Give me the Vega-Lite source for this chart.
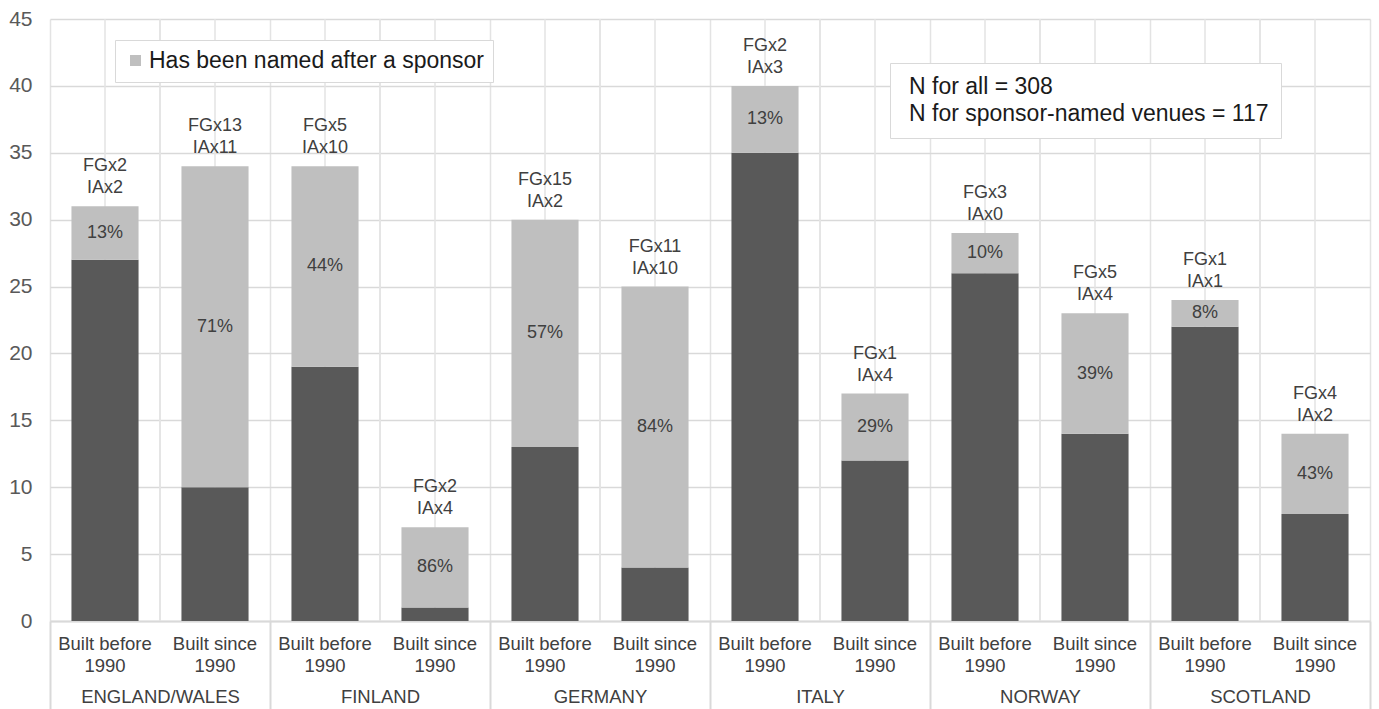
{
  "$schema": "https://vega.github.io/schema/vega-lite/v6.json",
  "width": 1320,
  "height": 602,
  "autosize": {"type": "none"},
  "padding": {"left": 50, "top": 19, "right": 9, "bottom": 88},
  "background": "white",
  "config": {
    "font": "Liberation Sans",
    "view": {"stroke": null}
  },
  "datasets": {
    "bars": [
      {"country": "ENGLAND/WALES", "period": "before", "plab": "Built before\n1990", "dark": 27, "total": 31, "pct": 0.13, "lab": "FGx2\nIAx2"},
      {"country": "ENGLAND/WALES", "period": "since", "plab": "Built since\n1990", "dark": 10, "total": 34, "pct": 0.71, "lab": "FGx13\nIAx11"},
      {"country": "FINLAND", "period": "before", "plab": "Built before\n1990", "dark": 19, "total": 34, "pct": 0.44, "lab": "FGx5\nIAx10"},
      {"country": "FINLAND", "period": "since", "plab": "Built since\n1990", "dark": 1, "total": 7, "pct": 0.86, "lab": "FGx2\nIAx4"},
      {"country": "GERMANY", "period": "before", "plab": "Built before\n1990", "dark": 13, "total": 30, "pct": 0.57, "lab": "FGx15\nIAx2"},
      {"country": "GERMANY", "period": "since", "plab": "Built since\n1990", "dark": 4, "total": 25, "pct": 0.84, "lab": "FGx11\nIAx10"},
      {"country": "ITALY", "period": "before", "plab": "Built before\n1990", "dark": 35, "total": 40, "pct": 0.13, "lab": "FGx2\nIAx3"},
      {"country": "ITALY", "period": "since", "plab": "Built since\n1990", "dark": 12, "total": 17, "pct": 0.29, "lab": "FGx1\nIAx4"},
      {"country": "NORWAY", "period": "before", "plab": "Built before\n1990", "dark": 26, "total": 29, "pct": 0.10, "lab": "FGx3\nIAx0"},
      {"country": "NORWAY", "period": "since", "plab": "Built since\n1990", "dark": 14, "total": 23, "pct": 0.39, "lab": "FGx5\nIAx4"},
      {"country": "SCOTLAND", "period": "before", "plab": "Built before\n1990", "dark": 22, "total": 24, "pct": 0.08, "lab": "FGx1\nIAx1"},
      {"country": "SCOTLAND", "period": "since", "plab": "Built since\n1990", "dark": 8, "total": 14, "pct": 0.43, "lab": "FGx4\nIAx2"}
    ],
    "notes": [
      {"note": "N for all = 308"},
      {"note": "N for sponsor-named venues = 117"}
    ]
  },
  "data": {"name": "bars"},
  "layer": [
    {
      "mark": {"type": "rule", "color": "#e3e3e3", "strokeWidth": 1.5},
      "encoding": {
        "x": {
          "field": "country",
          "type": "nominal",
          "sort": null,
          "scale": {"type": "band", "paddingInner": 0, "paddingOuter": 0},
          "axis": {
            "orient": "bottom",
            "title": null,
            "labelAngle": 0,
            "labelFontSize": 18.5,
            "labelColor": "#404040",
            "labelPadding": -22,
            "tickBand": "extent",
            "ticks": true,
            "tickSize": 88,
            "tickColor": "#d9d9d9",
            "tickWidth": 2,
            "grid": true,
            "gridColor": "#e3e3e3",
            "gridWidth": 1.5,
            "domainColor": "#d9d9d9",
            "domainWidth": 2
          }
        }
      }
    },
    {
      "mark": {"type": "rule", "color": "#e3e3e3", "strokeWidth": 1.5},
      "encoding": {
        "x": {"field": "country", "type": "nominal", "sort": null},
        "xOffset": {"field": "period", "type": "nominal", "sort": null, "scale": {"type": "band", "paddingInner": 0.39, "paddingOuter": 0.195}}
      }
    },
    {
      "mark": {"type": "bar", "color": "#595959"},
      "encoding": {
        "x": {"field": "country", "type": "nominal", "sort": null},
        "xOffset": {"field": "period", "type": "nominal", "sort": null},
        "y": {
          "field": "dark",
          "type": "quantitative",
          "title": null,
          "scale": {"domain": [0, 45]},
          "axis": {
            "values": [0, 5, 10, 15, 20, 25, 30, 35, 40, 45],
            "grid": true,
            "gridColor": "#d9d9d9",
            "gridWidth": 1.5,
            "domain": false,
            "ticks": false,
            "labelFontSize": 21,
            "labelColor": "#595959",
            "labelPadding": 18
          }
        }
      }
    },
    {
      "mark": {"type": "bar"},
      "encoding": {
        "x": {"field": "country", "type": "nominal", "sort": null},
        "xOffset": {"field": "period", "type": "nominal", "sort": null},
        "y": {"field": "dark", "type": "quantitative", "title": null},
        "y2": {"field": "total"},
        "color": {
          "datum": "Has been named after a sponsor",
          "scale": {"range": ["#bfbfbf"]},
          "legend": {
            "orient": "none",
            "legendX": 65,
            "legendY": 21,
            "title": null,
            "labelFontSize": 23,
            "labelColor": "#1a1a1a",
            "labelLimit": 800,
            "symbolType": "square",
            "symbolSize": 121,
            "symbolStrokeWidth": 0,
            "strokeColor": "#d9d9d9",
            "fillColor": "white",
            "padding": 9,
            "labelOffset": 2
          }
        }
      }
    },
    {
      "transform": [{"calculate": "(datum.dark + datum.total) / 2", "as": "mid"}],
      "mark": {"type": "text", "fontSize": 18, "color": "#404040", "baseline": "middle"},
      "encoding": {
        "x": {"field": "country", "type": "nominal", "sort": null},
        "xOffset": {"field": "period", "type": "nominal", "sort": null},
        "y": {"field": "mid", "type": "quantitative", "title": null},
        "text": {"field": "pct", "type": "quantitative", "format": ".0%"}
      }
    },
    {
      "mark": {"type": "text", "fontSize": 18, "color": "#404040", "baseline": "bottom", "dy": -31, "lineHeight": 22, "lineBreak": "\n"},
      "encoding": {
        "x": {"field": "country", "type": "nominal", "sort": null},
        "xOffset": {"field": "period", "type": "nominal", "sort": null},
        "y": {"field": "total", "type": "quantitative", "title": null},
        "text": {"field": "lab", "type": "nominal"}
      }
    },
    {
      "mark": {"type": "text", "fontSize": 18.5, "color": "#404040", "baseline": "top", "dy": 14, "lineHeight": 22, "lineBreak": "\n"},
      "encoding": {
        "x": {"field": "country", "type": "nominal", "sort": null},
        "xOffset": {"field": "period", "type": "nominal", "sort": null},
        "y": {"datum": 0, "type": "quantitative"},
        "text": {"field": "plab", "type": "nominal"}
      }
    },
    {
      "data": {"name": "notes"},
      "mark": {"type": "point", "opacity": 0},
      "encoding": {
        "shape": {
          "field": "note",
          "type": "nominal",
          "sort": null,
          "legend": {
            "orient": "none",
            "legendX": 840,
            "legendY": 44,
            "title": null,
            "labelFontSize": 23,
            "labelColor": "#1a1a1a",
            "labelLimit": 800,
            "symbolOpacity": 0,
            "symbolSize": 0,
            "strokeColor": "#d9d9d9",
            "fillColor": "white",
            "padding": 12,
            "labelOffset": -16,
            "rowPadding": 3
          }
        }
      }
    }
  ]
}
